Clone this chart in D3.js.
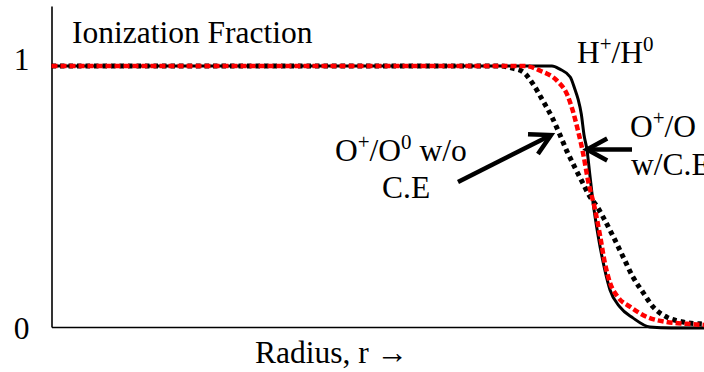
<!DOCTYPE html>
<html>
<head>
<meta charset="utf-8">
<script src="https://cdn.jsdelivr.net/npm/d3@7"></script>
<style>
  html, body { margin: 0; padding: 0; background: #fff; }
  svg { display: block; }
</style>
</head>
<body>
<svg id="chart" width="704" height="372" font-family="'Liberation Serif', 'DejaVu Serif', serif"></svg>
<script>
// Radius (arbitrary units, 0..100) and ionization fraction samples
const radiusH = [0, 60, 76.7, 77.9, 79.5, 80.2, 80.7, 81.2, 81.6, 82.1, 82.5, 83.0, 83.8, 84.8, 85.6, 87.1, 89.1, 91.7, 95, 100];
const fracH   = [1, 1, 1, 0.988, 0.958, 0.912, 0.873, 0.815, 0.738, 0.673, 0.585, 0.477, 0.346, 0.219, 0.142, 0.077, 0.035, 0.0, -0.004, -0.004];

const radiusOce = [0, 60, 72.6, 74.9, 77.5, 79.0, 79.9, 80.7, 81.5, 82.2, 83.3, 84.1, 84.8, 85.6, 86.8, 88.7, 91.3, 94.3, 97.4, 100];
const fracOce   = [1, 1, 1, 0.982, 0.943, 0.892, 0.828, 0.751, 0.662, 0.565, 0.45, 0.346, 0.246, 0.169, 0.115, 0.077, 0.038, 0.019, 0.012, 0.008];

const radiusOno = [0, 60, 68.8, 70.6, 72.3, 73.8, 75.3, 76.7, 77.9, 79.0, 80.2, 81.3, 82.5, 83.6, 84.5, 86.1, 87.6, 89.1, 90.7, 92.2, 94.3, 96.8, 99.4, 100];
const fracOno   = [1, 1, 1, 0.992, 0.977, 0.931, 0.867, 0.804, 0.738, 0.673, 0.612, 0.558, 0.5, 0.462, 0.423, 0.346, 0.269, 0.192, 0.131, 0.077, 0.038, 0.019, 0.012, 0.011];

const yTickValues = [0, 1];
const yTickLabels = ["0", "1"];

const FONT = "Liberation Serif";
const FS = 31.5, SUP = 21;
const svg = d3.select("#chart");

const x = d3.scaleLinear().domain([0, 100]).range([51.5, 704]);
const y = d3.scaleLinear().domain([0, 1.23]).range([327, 6]);

// Axes: plain lines, no ticks
svg.append("g")
  .attr("transform", `translate(0,${y(0)})`)
  .call(d3.axisBottom(x).tickValues([]).tickSizeOuter(0))
  .call(g => g.select(".domain").attr("stroke", "#000").attr("stroke-width", 1.6));

svg.append("g")
  .attr("transform", `translate(${x(0)},0)`)
  .call(d3.axisLeft(y).tickValues([]).tickSizeOuter(0))
  .call(g => g.select(".domain").attr("stroke", "#000").attr("stroke-width", 1.6));

// Tick labels
const tickDy = { 0: 12, 1: 4 };
svg.selectAll("text.ytick")
  .data(yTickValues)
  .join("text")
  .attr("class", "ytick")
  .attr("x", 21.5)
  .attr("y", d => y(d) + tickDy[d])
  .attr("text-anchor", "middle")
  .attr("font-family", FONT)
  .attr("font-size", FS)
  .text((d, i) => yTickLabels[i]);

// Curves
const line = d3.line()
  .x(d => x(d[0]))
  .y(d => y(d[1]))
  .curve(d3.curveMonotoneX);

const zipped = (r, f) => r.map((v, i) => [v, f[i]]);

svg.append("path")
  .datum(zipped(radiusH, fracH))
  .attr("d", line)
  .attr("fill", "none")
  .attr("stroke", "#000")
  .attr("stroke-width", 3);

svg.append("path")
  .datum(zipped(radiusOno, fracOno))
  .attr("d", line)
  .attr("fill", "none")
  .attr("stroke", "#000")
  .attr("stroke-width", 5)
  .attr("stroke-dasharray", "4.5,4");

svg.append("path")
  .datum(zipped(radiusOce, fracOce))
  .attr("d", line)
  .attr("fill", "none")
  .attr("stroke", "#ff0000")
  .attr("stroke-width", 4.5)
  .attr("stroke-dasharray", "6,3");

// Titles and annotations
const T = (xx, yy) => svg.append("text")
  .attr("x", xx).attr("y", yy)
  .attr("font-family", FONT)
  .attr("font-size", FS);

T(72, 43).text("Ionization Fraction");
T(255, 363).text("Radius, r \u2192");

function withSup(t, parts) {
  parts.forEach(p => {
    if (p.sup) {
      t.append("tspan").attr("font-size", SUP).attr("baseline-shift", "55%").text(p.sup);
    } else {
      t.append("tspan").text(p.t);
    }
  });
}

withSup(T(577, 62.5), [{ t: "H" }, { sup: "+" }, { t: "/H" }, { sup: "0" }]);
withSup(T(630, 137), [{ t: "O" }, { sup: "+" }, { t: "/O" }]);
T(631, 175).text("w/C.E");
withSup(T(335, 161), [{ t: "O" }, { sup: "+" }, { t: "/O" }, { sup: "0" }, { t: " w/o" }]);
T(382, 198).text("C.E");

// Arrows pointing at the oxygen curves
function arrow(x1, y1, x2, y2) {
  const ang = Math.atan2(y2 - y1, x2 - x1);
  const len = 23, spread = 0.5;
  const g = svg.append("g").attr("stroke", "#000").attr("stroke-width", 4.5)
    .attr("fill", "none").attr("stroke-linecap", "butt").attr("stroke-linejoin", "miter");
  g.append("line").attr("x1", x1).attr("y1", y1).attr("x2", x2 - 2 * Math.cos(ang)).attr("y2", y2 - 2 * Math.sin(ang));
  const p = d3.path();
  p.moveTo(x2 - len * Math.cos(ang - spread), y2 - len * Math.sin(ang - spread));
  p.lineTo(x2, y2);
  p.lineTo(x2 - len * Math.cos(ang + spread), y2 - len * Math.sin(ang + spread));
  g.append("path").attr("d", p.toString());
}
arrow(458, 182, 551, 135);
arrow(632, 149.5, 587, 149.5);
</script>
</body>
</html>
